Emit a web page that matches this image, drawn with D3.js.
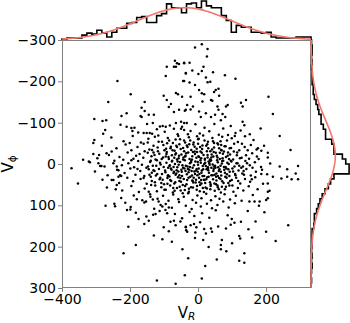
<!DOCTYPE html>
<html>
<head>
<meta charset="utf-8">
<script src="https://cdn.jsdelivr.net/npm/d3@7"></script>
<style>
  body { margin: 0; background: #fff; }
  text { font-family: "DejaVu Sans", sans-serif; }
</style>
</head>
<body>
<script>
// axis ticks
const xTicks = [-400, -200, 0, 200];
const yTicks = [-300, -200, -100, 0, 100, 200, 300];

// marginal histograms, 50 bins each
const vRCounts = [1, 2, 2, 2, 5, 7, 6, 10, 7, 3, 8, 12, 12, 17, 18, 23, 24, 18, 18, 25,
  27, 37, 33, 33, 28, 37, 38, 33, 40, 35, 33, 33, 25, 20, 8, 15, 13, 13, 8, 8,
  7, 8, 3, 2, 2, 2, 2, 3, 3, 3];
const vPhiCounts = [1, 2, 2, 1, 2, 1, 2, 2, 2, 4, 4, 6, 9, 12, 14, 18, 18, 22, 26, 26,
  37, 41, 41, 56, 62, 68, 68, 41, 35, 31, 25, 20, 16, 13, 10, 6, 6, 5, 2, 2,
  2, 2, 1, 2, 1, 2, 1, 0, 1, 0];

// gaussian fits drawn in red
const rFitMu = -40, rFitSigma = 136;
const phiFitMu = -20, phiFitSigma = 85;

// stars: [V_R, V_phi]
const stars = [
  // upper part
  [-68,-250],[-62,-244],[-65,-235],[-71,-235],[-41,-244],[-92,-235],[-36,-220],[-95,-213],[-237,-201],[-44,-201],
  [-65,-172],[-59,-169],[-198,-169],[-264,-150],[-157,-150],[-101,-165],[-92,-155],[-80,-145],[-86,-138],[-166,-136],
  [-157,-128],[-71,-126],[-36,-131],[-210,-123],[-225,-116],[-145,-119],[-130,-119],[-169,-116],[-166,-114],[-305,-109],
  [-281,-104],[-270,-106],[-133,-99],[-65,-99],[-50,-102],[-41,-99],[-33,-99],[-210,-90],[-196,-87],[-193,-80],
  [-273,-82],[-279,-73],[-160,-75],[-151,-75],[-142,-75],[-104,-92],[-95,-90],[-71,-85],[-50,-85],[-41,-82],
  [-305,-58],[-308,-51],
  [-9,-282],[11,-290],[28,-278],[26,-260],[-56,-242],[-41,-245],[-25,-245],[16,-235],[11,-225],[-17,-226],
  [44,-222],[-36,-219],[1,-218],[79,-215],[23,-209],[110,-206],[-41,-201],[-25,-197],[36,-199],[28,-198],
  [-9,-191],[60,-182],[52,-179],[47,-174],[3,-179],[11,-171],[18,-169],[-47,-163],[-22,-163],[62,-165],
  [207,-163],[38,-155],[42,-153],[141,-155],[126,-148],[131,-139],[13,-151],[-32,-143],[-15,-139],[-22,-132],
  [87,-143],[82,-139],[57,-139],[60,-131],[-56,-131],[-39,-129],[220,-121],[3,-127],[23,-123],[38,-114],
  [8,-114],[50,-119],[72,-121],[80,-114],[67,-106],[131,-102],[136,-94],[184,-86],[240,-68],[176,-38],
  [186,-32],[272,-34],[205,-27],[205,-16],
  // right side and lower part
  [240,6],[262,13],[294,5],[287,23],[275,37],[294,37],[262,31],[245,35],[220,31],[205,47],
  [205,67],[210,65],[205,83],[200,87],[195,117],[181,91],[166,91],[151,91],[146,114],[265,148],
  [200,164],[228,186],[159,178],[121,174],[124,180],[70,184],[67,196],[67,206],[15,184],[136,216],
  [121,234],[136,239],[55,231],[-29,228],[21,247],[-39,269],[11,277],
  [126,140],[107,142],[82,156],[38,156],[41,164],[23,168],[18,157],[-36,152],[-35,160],[-12,145],
  [-22,148],[-5,153],
  // left side
  [-372,10],[-353,47],[-338,-10],[-321,-6],[-308,-24],[-291,-22],[-293,-2],[-288,5],[-284,5],[-269,-26],
  [-254,-30],[-254,39],[-249,39],[-239,51],[-242,61],[-272,101],[-244,102],[-214,94],[-209,111],[-199,110],
  [-175,133],[-145,137],[-180,85],[-153,91],[-140,79],[-145,67],[-132,123],[-125,121],[-116,91],[-110,99],
  [-105,182],[-219,216],[-36,153],[-121,282],[-66,290],
  [-249,-2],[-239,6],[-234,15],[-229,27],[-234,31],[-105,103],[-96,111],[-91,119],[-86,105],[-81,140],
  [-71,137],[-66,148],[-101,153],[-32,164],
  // core
  [-228,-95],[-187,-88],[-150,-97],[-121,-84],[-98,-78],[-83,-93],[-60,-72],[-47,-90],[-22,-80],[-8,-96],
  [5,-74],[19,-88],[33,-79],[48,-97],[61,-71],[74,-86],[96,-92],[110,-75],[125,-81],[152,-72],
  [-135,-73],[-112,-91],[-30,-72],[88,-70],[-176,-76],
  [-255,-64],[-219,-55],[-192,-68],[-168,-52],[-146,-61],[-127,-66],[-106,-54],[-89,-63],[-74,-51],[-58,-68],
  [-41,-57],[-27,-65],[-13,-52],[2,-61],[15,-69],[29,-54],[42,-63],[57,-50],[71,-66],[85,-57],
  [99,-62],[117,-53],[138,-67],[163,-58],[-201,-51],[-117,-69],[-66,-59],[-3,-67],[66,-55],[108,-68],
  [-283,-44],[-240,-38],[-213,-47],[-196,-33],[-178,-41],[-160,-49],[-143,-35],[-131,-44],[-118,-31],[-102,-46],
  [-94,-37],[-80,-42],[-69,-32],[-55,-48],[-44,-39],[-33,-45],[-20,-34],[-10,-42],[0,-49],[12,-36],
  [24,-44],[36,-31],[47,-40],[59,-47],[68,-34],[81,-43],[93,-38],[106,-49],[121,-33],[137,-41],
  [155,-46],[172,-35],[194,-44],[-157,-31],[-62,-41],[-26,-48],[30,-38],[76,-30],
  [-296,-14],[-262,-22],[-231,-17],[-207,-28],[-190,-13],[-172,-24],[-161,-15],[-148,-27],[-137,-19],[-125,-11],
  [-114,-25],[-103,-16],[-92,-29],[-86,-12],[-77,-21],[-65,-26],[-57,-14],[-49,-23],[-38,-18],[-29,-28],
  [-18,-11],[-9,-24],[3,-17],[11,-27],[20,-13],[28,-22],[39,-16],[46,-29],[55,-20],[64,-12],
  [73,-25],[82,-17],[94,-23],[103,-11],[115,-28],[128,-15],[141,-21],[159,-26],[178,-12],[-220,-10],
  [-182,-20],[-131,-28],[-70,-15],[-44,-11],[-3,-29],[35,-11],[88,-28],[150,-13],
  [-318,-4],[-275,6],[-246,-8],[-224,3],[-205,-2],[-188,8],[-176,-7],[-165,2],[-152,9],[-141,-5],
  [-133,4],[-121,-9],[-110,1],[-101,7],[-93,-3],[-84,5],[-76,-8],[-68,0],[-61,8],[-53,-5],
  [-46,3],[-39,-9],[-31,6],[-24,-2],[-16,9],[-8,-6],[0,2],[7,-9],[14,5],[21,-3],
  [29,8],[36,-7],[43,1],[51,9],[58,-4],[66,4],[74,-8],[81,7],[90,0],[98,-6],
  [107,6],[116,-2],[127,9],[139,-7],[152,3],[167,-4],[185,7],[212,-1],[-196,-9],[-147,6],
  [-88,9],[-57,2],[-20,-8],[18,0],[47,6],[70,-1],[121,4],[160,9],
  [-303,18],[-266,27],[-238,14],[-216,22],[-199,11],[-184,26],[-170,17],[-158,29],[-145,13],[-136,21],
  [-124,28],[-115,12],[-106,24],[-97,16],[-89,29],[-80,11],[-72,22],[-63,15],[-55,27],[-48,19],
  [-40,11],[-33,25],[-26,14],[-18,28],[-11,18],[-4,12],[4,24],[11,16],[18,29],[25,13],
  [32,21],[39,27],[46,12],[54,23],[61,17],[68,28],[77,14],[85,25],[93,19],[101,11],
  [110,27],[119,16],[130,23],[142,12],[155,28],[170,19],[188,14],[203,25],[-226,29],[-178,12],
  [-128,17],[-66,26],[-37,17],[-1,19],[29,11],[58,29],[89,13],[135,26],
  [-281,38],[-232,46],[-208,33],[-191,42],[-169,36],[-151,48],[-139,31],[-127,44],[-113,37],[-100,49],
  [-90,34],[-79,41],[-70,47],[-59,32],[-50,43],[-42,36],[-34,49],[-23,31],[-14,45],[-6,38],
  [3,33],[10,47],[19,39],[27,32],[35,44],[44,37],[53,49],[62,34],[71,42],[80,31],
  [89,46],[99,39],[112,33],[124,47],[138,36],[153,43],[168,32],[191,48],[-160,34],[-84,30],
  [-17,40],[48,47],
  [-268,57],[-223,64],[-196,53],[-174,68],[-157,59],[-138,51],[-121,66],[-108,56],[-95,62],[-82,52],
  [-74,69],[-62,58],[-51,64],[-38,53],[-27,67],[-15,57],[-4,62],[6,51],[17,68],[26,59],
  [37,53],[49,65],[58,56],[67,69],[79,61],[92,52],[104,67],[117,58],[133,64],[149,54],
  [175,61],[-45,51],
  [-226,82],[-189,76],[-164,88],[-141,73],[-119,84],[-103,77],[-87,89],[-73,74],[-58,85],[-42,79],
  [-29,71],[-16,87],[-2,76],[10,83],[24,72],[38,88],[51,78],[63,84],[78,73],[94,86],
  [111,77],[128,89],[161,75],[-133,86],
  [-246,96],[-198,104],[-158,93],[-129,108],[-95,97],[-77,106],[-56,92],[-36,101],[-19,109],[-6,94],
  [8,103],[26,96],[41,107],[57,99],[74,91],[90,105],[108,95],[179,101],
  [-183,118],[-152,127],[-113,114],[-68,121],[-47,131],[-25,116],[-11,126],[12,119],[33,130],[52,112],
  [87,124],[99,133],
  [-205,152],[-158,145],[-86,163],[-52,139],[-8,166],[6,141],[59,151],[96,147],[148,158],[169,139],
  [-183,196],[-77,188],[-46,206],[-9,179],[31,201],[83,211],[100,192],[-130,173],
  [-95,-18],[-83,3],[-71,19],[-62,-11],[-52,34],[-44,9],[-35,-26],[-28,20],[-21,-4],[-13,33],
  [-5,-15],[2,11],[9,39],[16,-22],[23,5],[31,31],[38,-9],[45,17],[52,-27],[59,8],
  [66,36],[72,-14],[79,21],[86,-3],[94,41],[-88,27],[-77,-6],[-67,44],[-56,-20],[-49,14],
  [-41,-31],[-32,39],[-24,7],[-17,-19],[-9,24],[-1,-5],[7,-30],[13,29],[21,46],[28,-16],
  [34,2],[41,-35],[49,26],[56,-9],[63,13],[69,-33],[76,7],[84,33],[91,-12],[-104,38],
  [-112,-3],[-120,24],[-128,-22],[-136,41],[-99,-33],[-90,48],[-81,-38],[-73,58],[-64,-44],[-54,55],
  [-38,-52],[-27,60],[-14,-47],[-3,53],[6,-41],[14,58],[27,-48],[36,61],[44,-55],[57,52],
  [68,-46],[82,55],[97,-39],[103,18],[114,-21],[132,6],[146,-33],[158,37],[173,-18],[186,24],
  [-148,-52],[-139,-8],[-131,15],[-126,52],[-119,-40],[-111,33],[-107,-12],[-99,62],[-96,20],[-91,-50],
  [-87,-17],[-82,39],[-78,14],[-75,-33],[-69,65],[-64,23],[-60,-6],[-55,41],[-51,-36],[-47,29],
  [-43,-16],[-39,63],[-36,4],[-31,-41],[-28,33],[-25,-12],[-21,56],[-19,17],[-15,-29],[-12,3],
  [-7,45],[-4,-37],[-2,27],[1,-19],[5,66],[8,-3],[10,21],[13,-45],[17,38],[20,-10],
  [22,57],[26,-31],[30,15],[33,-2],[37,49],[40,-23],[43,27],[47,-51],[50,4],[54,40],
  [57,-16],[61,61],[64,-27],[67,19],[71,-7],[75,46],[78,-43],[83,11],[87,-20],[92,29],
  [96,-8],[101,52],[105,-30],[109,24],[113,-2],[118,41],[123,-14],[129,-49],[134,17],[144,-2],
  [-143,26],[-135,-34],[-123,4],[-116,-54],[-108,46],[-93,-24],[-85,-57],[-72,7],[-67,-23],[-58,18],
  [-53,-60],[-45,71],[-37,-20],[-30,12],[-23,-57],[-16,41],[-10,-30],[-6,16],[0,-60],[4,44],
  [9,-14],[15,13],[19,-57],[24,37],[31,-6],[39,9],[45,-18],[53,31],[62,-38],[70,55]
];

const W = 350, H = 323;
const mLeft = 62, mRight = 311, mTop = 40, mBottom = 288;

const svg = d3.select("body").append("svg")
    .attr("width", W)
    .attr("height", H);

const x = d3.scaleLinear().domain([-400, 332]).range([mLeft, mRight]);
const y = d3.scaleLinear().domain([-300, 300]).range([mTop, mBottom]);

// marginal scales
const topY = d3.scaleLinear().domain([0, 41]).range([mTop, 0]);
const rightX = d3.scaleLinear().domain([0, 71.4]).range([mRight, mRight + 40]);

const rEdges = d3.range(vRCounts.length + 1).map(i => -400 + i * 732 / vRCounts.length);
const phiEdges = d3.range(vPhiCounts.length + 1).map(i => -300 + i * 600 / vPhiCounts.length);

// scatter
svg.append("g")
  .selectAll("circle")
  .data(stars)
  .enter().append("circle")
    .attr("cx", d => x(d[0]))
    .attr("cy", d => y(d[1]))
    .attr("r", 1.25)
    .attr("fill", "#000");

// frame
svg.append("rect")
    .attr("x", mLeft + 0.5)
    .attr("y", mTop + 0.5)
    .attr("width", mRight - mLeft - 1)
    .attr("height", mBottom - mTop - 1)
    .attr("fill", "none")
    .attr("stroke", "#808080")
    .attr("stroke-width", 1);

// axes
const fmt = d => d3.format("d")(d).replace("-", "\u2212");
const xAxis = svg.append("g")
    .attr("transform", `translate(0,${mBottom})`)
    .call(d3.axisBottom(x).tickValues(xTicks).tickSize(4).tickPadding(2).tickFormat(fmt));
const yAxis = svg.append("g")
    .attr("transform", `translate(${mLeft},0)`)
    .call(d3.axisLeft(y).tickValues(yTicks).tickSize(4).tickPadding(2).tickFormat(fmt));

[xAxis, yAxis].forEach(g => {
  g.select(".domain").remove();
  g.selectAll(".tick line").attr("stroke", "#808080");
  g.selectAll(".tick text")
    .attr("fill", "#000")
    .style("font-size", "14px")
    .style("font-family", "DejaVu Sans");
});

// top histogram
let topPath = `M${x(rEdges[0])},${topY(0)}`;
vRCounts.forEach((c, i) => {
  topPath += `L${x(rEdges[i])},${topY(c)}L${x(rEdges[i + 1])},${topY(c)}`;
});
topPath += `L${x(rEdges[rEdges.length - 1])},${topY(0)}`;
svg.append("path")
    .attr("d", topPath)
    .attr("fill", "none")
    .attr("stroke", "#000")
    .attr("stroke-width", 1.6);

// right histogram
let rightPath = `M${rightX(0)},${y(phiEdges[0])}`;
vPhiCounts.forEach((c, i) => {
  rightPath += `L${rightX(c)},${y(phiEdges[i])}L${rightX(c)},${y(phiEdges[i + 1])}`;
});
rightPath += `L${rightX(0)},${y(phiEdges[phiEdges.length - 1])}`;
svg.append("path")
    .attr("d", rightPath)
    .attr("fill", "none")
    .attr("stroke", "#000")
    .attr("stroke-width", 1.6);

// gaussian fits
function gauss(v, n, w, mu, s) {
  return n * w / (Math.sqrt(2 * Math.PI) * s) * Math.exp(-(v - mu) * (v - mu) / (2 * s * s));
}
const nR = d3.sum(vRCounts), nPhi = d3.sum(vPhiCounts);
const rGrid = d3.range(-400, 333, 3);
const phiGrid = d3.range(-300, 301, 3);

svg.append("path")
    .datum(rGrid)
    .attr("d", d3.line()
      .x(v => x(v))
      .y(v => topY(gauss(v, nR, 732 / vRCounts.length, rFitMu, rFitSigma))))
    .attr("fill", "none")
    .attr("stroke", "#f4776b")
    .attr("stroke-width", 1.6);

svg.append("path")
    .datum(phiGrid)
    .attr("d", d3.line()
      .x(v => rightX(gauss(v, nPhi, 600 / vPhiCounts.length, phiFitMu, phiFitSigma)))
      .y(v => y(v)))
    .attr("fill", "none")
    .attr("stroke", "#f4776b")
    .attr("stroke-width", 1.6);

// axis labels
const xl = svg.append("text")
    .attr("x", (mLeft + mRight) / 2)
    .attr("y", 318)
    .attr("text-anchor", "middle")
    .style("font-size", "15px");
xl.append("tspan").text("V");
xl.append("tspan").attr("dy", 2).style("font-size", "10.5px").style("font-style", "italic").text("R");

const yl = svg.append("text")
    .attr("transform", `translate(13,${(mTop + mBottom) / 2}) rotate(-90)`)
    .attr("text-anchor", "middle")
    .style("font-size", "15px");
yl.append("tspan").text("V");
yl.append("tspan").attr("dy", 3).style("font-size", "10.5px").text("\u03d5");
</script>
</body>
</html>
